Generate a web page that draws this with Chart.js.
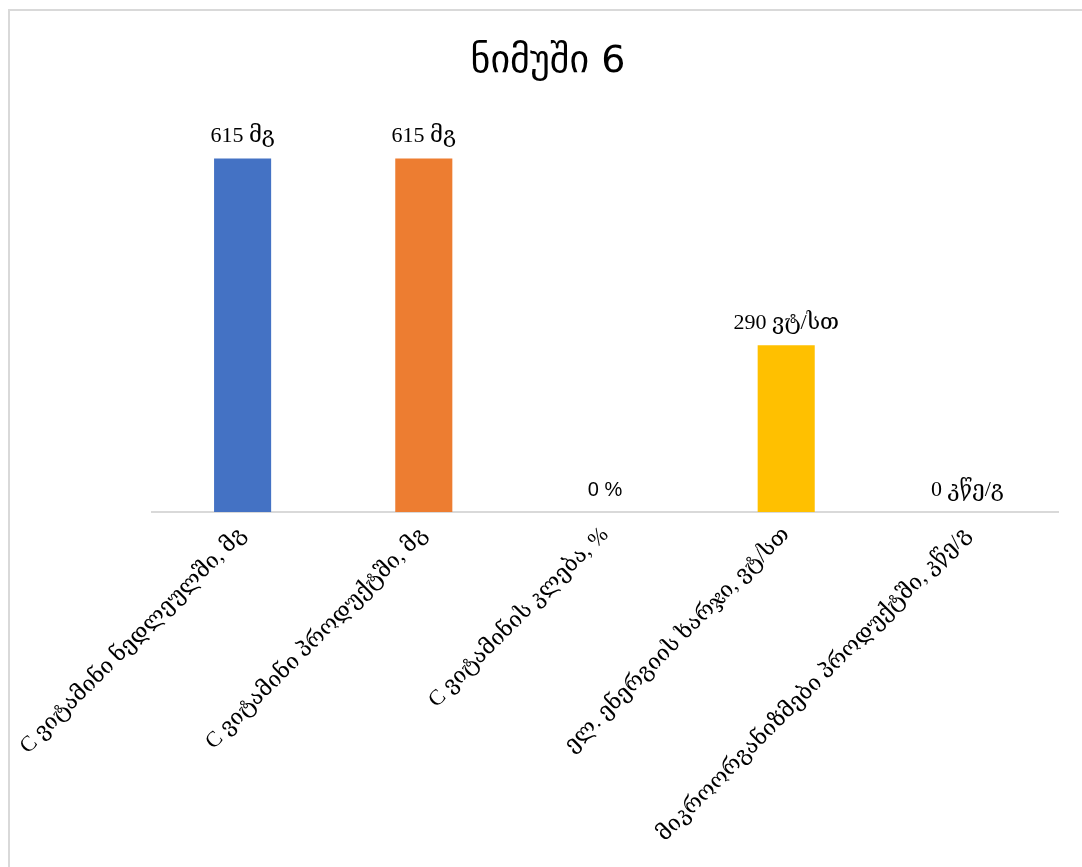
<!DOCTYPE html>
<html lang="ka">
<head>
<meta charset="utf-8">
<title>ნიმუში 6</title>
<script src="https://cdn.jsdelivr.net/npm/chart.js@4/dist/chart.umd.min.js"></script>
<style>
  html, body { margin: 0; padding: 0; background: #fff; }
  #wrap { position: relative; width: 1082px; height: 867px; overflow: hidden; }
  #frame {
    position: absolute; left: 8px; top: 9px; width: 1200px; height: 1000px;
    border-left: 2px solid #d9d9d9; border-top: 2px solid #d9d9d9;
    box-sizing: border-box; pointer-events: none;
  }
  canvas { position: absolute; left: 0; top: 0; }
</style>
</head>
<body>
<div id="wrap">
  <div id="frame"></div>
  <canvas id="chart" width="1082" height="867"></canvas>
</div>
<script>
// Chart content
const chartTitle = 'ნიმუში 6';
const categories = [
  'C ვიტამინი ნედლეულში, მგ',
  'C ვიტამინი პროდუქტში, მგ',
  'C ვიტამინის კლება, %',
  'ელ. ენერგიის ხარჯი, ვტ/სთ',
  'მიკროორგანიზმები პროდუქტში, კწე/გ'
];
const values = [615, 615, 0, 290, 0];
const units = ['მგ', 'მგ', '%', 'ვტ/სთ', 'კწე/გ'];
const barColors = ['#4472C4', '#ED7D31', '#A5A5A5', '#FFC000', '#5B9BD5'];

const serifStack = "'Liberation Serif', 'DejaVu Serif', serif";
const sansStack = "'Liberation Sans', 'DejaVu Sans', sans-serif";

// Value labels written above each bar
const valueLabels = {
  id: 'valueLabels',
  afterDatasetsDraw(chart) {
    const ctx = chart.ctx;
    const meta = chart.getDatasetMeta(0);
    ctx.save();
    ctx.fillStyle = '#000';
    ctx.textAlign = 'center';
    ctx.textBaseline = 'alphabetic';
    meta.data.forEach((bar, i) => {
      const text = values[i] + ' ' + units[i];
      ctx.font = (units[i] === '%' ? '20px ' + sansStack : '22px ' + serifStack);
      ctx.fillText(text, bar.x, bar.y - 16);
    });
    ctx.restore();
  }
};

new Chart(document.getElementById('chart'), {
  type: 'bar',
  data: {
    labels: categories,
    datasets: [{
      data: values,
      backgroundColor: barColors,
      borderWidth: 0,
      barPercentage: 0.315,
      categoryPercentage: 1
    }]
  },
  options: {
    responsive: false,
    animation: false,
    layout: { padding: { top: 10, left: 38, right: 24, bottom: 8 } },
    plugins: {
      legend: { display: false },
      tooltip: { enabled: false },
      title: {
        display: true,
        text: chartTitle,
        color: '#000',
        font: { family: "'DejaVu Sans', sans-serif", size: 38, weight: 'normal' },
        padding: { top: 29, bottom: 25 }
      }
    },
    scales: {
      x: {
        grid: { display: false, drawTicks: false },
        border: { display: true, color: '#d9d9d9', width: 2 },
        ticks: {
          color: '#000',
          minRotation: 45,
          maxRotation: 45,
          padding: 10,
          font: { family: serifStack, size: 22 }
        },
        afterFit(scale) {
          // fixed band for the slanted category names and a fixed left edge for the plot
          scale.height = 347;
          scale.paddingLeft = 152;
          scale.paddingRight = 24;
        }
      },
      y: {
        display: false,
        min: 0,
        max: 700
      }
    }
  },
  plugins: [valueLabels]
});
</script>
</body>
</html>
